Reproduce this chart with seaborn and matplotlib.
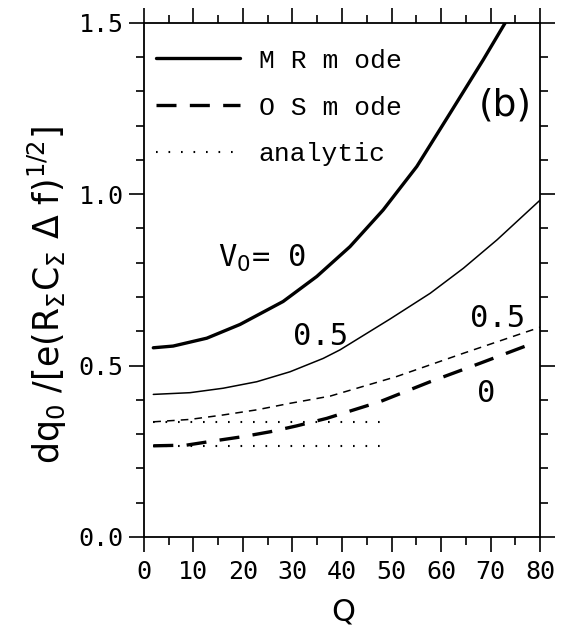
import matplotlib
matplotlib.use("Agg")
import matplotlib.pyplot as plt
from matplotlib.ticker import MultipleLocator, FormatStrFormatter
import seaborn as sns

# values
q_mr0 = [1.9, 5.9, 12.7, 19.4, 28.1, 34.9, 41.6, 48.3, 55.1, 61.8, 68.5, 72.9]
dq_mr0 = [0.552, 0.557, 0.580, 0.620, 0.687, 0.760, 0.847, 0.954, 1.081, 1.236, 1.392, 1.499]

q_mr05 = [1.9, 9.3, 16.0, 22.8, 29.5, 36.2, 39.6, 49.7, 57.8, 64.5, 71.3, 80]
dq_mr05 = [0.416, 0.421, 0.434, 0.453, 0.482, 0.521, 0.546, 0.636, 0.711, 0.784, 0.867, 0.983]

q_os05 = [1.9, 9.3, 16.0, 22.8, 29.5, 37.6, 51.0, 64.5, 80]
dq_os05 = [0.336, 0.343, 0.356, 0.371, 0.390, 0.411, 0.468, 0.536, 0.612]

q_os0 = [1.9, 8.6, 14.0, 20.1, 25.5, 30.8, 36.9, 47.7, 57.8, 67.9, 77.6]
dq_os0 = [0.266, 0.268, 0.280, 0.293, 0.307, 0.324, 0.346, 0.395, 0.453, 0.507, 0.560]

q_analytic = [1.9, 49.7]
dq_analytic_05 = [0.336, 0.336]
dq_analytic_0 = [0.266, 0.266]

sns.set_style("ticks")
plt.rcParams["font.family"] = ["DejaVu Sans"]
for key in ["text.color", "axes.labelcolor", "xtick.color", "ytick.color", "axes.edgecolor"]:
    plt.rcParams[key] = "black"

fig = plt.figure(figsize=(5.71, 6.34), dpi=100)
ax = fig.add_axes([0.252, 0.153, 0.694, 0.811])

sns.lineplot(x=q_mr0, y=dq_mr0, ax=ax, color="black", lw=2.4, label="M R m ode")
sns.lineplot(x=q_os0, y=dq_os0, ax=ax, color="black", lw=2.4, label="O S m ode")
ax.lines[-1].set_dashes([6, 4])
sns.lineplot(x=q_analytic, y=dq_analytic_0, ax=ax, color="black", lw=1.5, label="analytic")
ax.lines[-1].set_dashes([0.8, 5.2])
sns.lineplot(x=q_mr05, y=dq_mr05, ax=ax, color="black", lw=1.1)
sns.lineplot(x=q_os05, y=dq_os05, ax=ax, color="black", lw=1.1)
ax.lines[-1].set_dashes([5, 4])
sns.lineplot(x=q_analytic, y=dq_analytic_05, ax=ax, color="black", lw=1.5)
ax.lines[-1].set_dashes([0.8, 5.2])

ax.set_xlim(0, 80)
ax.set_ylim(0, 1.5)
ax.xaxis.set_major_locator(MultipleLocator(10))
ax.xaxis.set_minor_locator(MultipleLocator(5))
ax.yaxis.set_major_locator(MultipleLocator(0.5))
ax.yaxis.set_minor_locator(MultipleLocator(0.1))
ax.yaxis.set_major_formatter(FormatStrFormatter("%.1f"))
ax.tick_params(which="both", direction="out", top=True, right=True,
               labeltop=False, labelright=False, width=1.2)
ax.tick_params(which="major", length=10.5)
ax.tick_params(axis="x", which="major", pad=6)
ax.tick_params(axis="y", which="major", pad=4)
ax.tick_params(which="minor", length=5.5)
for lab in ax.get_xticklabels() + ax.get_yticklabels():
    lab.set_fontfamily("DejaVu Sans Mono")
    lab.set_fontsize(18)
for s in ax.spines.values():
    s.set_linewidth(1.3)

ax.set_xlabel("Q", fontsize=22)
ax.xaxis.set_label_coords(0.5025, -0.118)
ax.set_ylabel(r"dq$_0$ /[e(R$_\Sigma$C$_\Sigma$ $\Delta$ f)$^{1/2}$]", fontsize=25)
ax.yaxis.set_label_coords(-0.19, 0.471)

mono = "DejaVu Sans Mono"
ax.text(23.8, 0.788, r"V$_0$= 0", fontsize=22, family=mono, ha="center", va="baseline")
ax.text(35.6, 0.560, "0.5", fontsize=22, family=mono, ha="center", va="baseline")
ax.text(71.3, 0.613, "0.5", fontsize=22, family=mono, ha="center", va="baseline")
ax.text(69.1, 0.394, "0", fontsize=22, family=mono, ha="center", va="baseline")
ax.text(72.9, 1.26, "(b)", fontsize=27, ha="center", va="center")

ax.legend(loc="upper left", frameon=False, prop={"family": "Liberation Mono", "size": 19},
          handlelength=3.2, handletextpad=0.7, labelspacing=0.87, borderaxespad=0.05,
          bbox_to_anchor=(0.0, 0.973))

fig.savefig("out.png", dpi=100)
